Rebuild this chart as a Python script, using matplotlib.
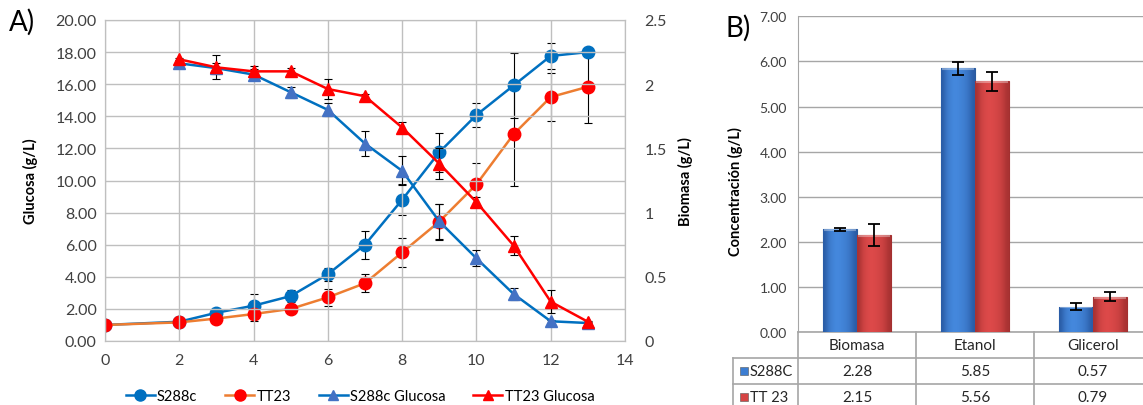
import numpy as np
import matplotlib.pyplot as plt
from matplotlib.ticker import FuncFormatter, MultipleLocator
from matplotlib.lines import Line2D
from matplotlib.colors import LinearSegmentedColormap

plt.rcParams['font.family'] = ['Lato', 'DejaVu Sans']

# ---- panel A data (time in h) ----
t_bio = [0, 2, 3, 4, 5, 6, 7, 8, 9, 10, 11, 12, 13]
s288c_bio = [0.125, 0.15, 0.22, 0.275, 0.35, 0.52, 0.75, 1.10, 1.47, 1.76, 1.99, 2.22, 2.25]
s288c_bio_err = [0, 0.01, 0.02, 0.09, 0.05, 0.05, 0.11, 0.12, 0.15, 0.095, 0.25, 0.10, 0.0]
tt23_bio = [0.125, 0.145, 0.175, 0.21, 0.25, 0.34, 0.45, 0.69, 0.93, 1.22, 1.61, 1.90, 1.98]
tt23_bio_err = [0, 0.01, 0.02, 0.055, 0.02, 0.065, 0.07, 0.11, 0.14, 0.17, 0.40, 0.19, 0.28]

t_glu = [2, 3, 4, 5, 6, 7, 8, 9, 10, 11, 12, 13]
s288c_glu = [17.3, 17.0, 16.6, 15.5, 14.4, 12.3, 10.6, 7.45, 5.15, 2.93, 1.23, 1.12]
s288c_glu_err = [0.2, 0.35, 0.35, 0.35, 0.4, 0.8, 0.9, 1.1, 0.5, 0.4, 0.1, 0.05]
tt23_glu = [17.55, 17.05, 16.8, 16.8, 15.7, 15.25, 13.3, 11.05, 8.65, 5.95, 2.45, 1.2]
tt23_glu_err = [0.1, 0.75, 0.35, 0.2, 0.6, 0.15, 0.35, 0.95, 0.3, 0.6, 0.7, 0.05]

# ---- panel B data ----
categories = ['Biomasa', 'Etanol', 'Glicerol']
row_labels = ['S288C', 'TT 23']
s288c_conc = [2.28, 5.85, 0.57]
s288c_conc_err = [0.03, 0.14, 0.07]
tt23_conc = [2.15, 5.56, 0.79]
tt23_conc_err = [0.24, 0.21, 0.10]

W, H = 1143, 406
fig = plt.figure(figsize=(W / 100, H / 100), dpi=100)

def px_axes(x0, y0, x1, y1):
    # pixel box (top-left origin) -> axes
    return fig.add_axes([x0 / W, 1 - y1 / H, (x1 - x0) / W, (y1 - y0) / H])

grid_c = '#BFBFBF'
blue = '#0070C0'
orange = '#ED7D31'
red = '#FF0000'
tri_blue = '#4472C4'

# ================= panel A =================
ax = px_axes(105, 21, 625, 342)
ax2 = ax.twinx()
ax.set_zorder(ax2.get_zorder() + 1)
ax.patch.set_visible(False)

ekw = dict(ecolor='black', elinewidth=0.8, capsize=3, capthick=0.8)
ax2.errorbar(t_bio, s288c_bio, yerr=s288c_bio_err, color=blue, lw=1.8,
             marker='o', ms=9, mfc=blue, mec=blue, **ekw)
ax2.errorbar(t_bio, tt23_bio, yerr=tt23_bio_err, color=orange, lw=1.8,
             marker='o', ms=9, mfc=red, mec=red, **ekw)
ax.errorbar(t_glu, s288c_glu, yerr=s288c_glu_err, color=blue, lw=1.8,
            marker='^', ms=8, mfc=tri_blue, mec=tri_blue, **ekw)
ax.errorbar(t_glu, tt23_glu, yerr=tt23_glu_err, color=red, lw=1.8,
            marker='^', ms=8, mfc=red, mec=red, **ekw)

ax.set_xlim(0, 14)
ax.set_ylim(0, 20)
ax2.set_ylim(0, 2.5)
ax.xaxis.set_major_locator(MultipleLocator(2))
ax.yaxis.set_major_locator(MultipleLocator(2))
ax2.yaxis.set_major_locator(MultipleLocator(0.5))
ax.yaxis.set_major_formatter(FuncFormatter(lambda v, p: '%.2f' % v))
ax2.yaxis.set_major_formatter(FuncFormatter(lambda v, p: '%g' % v))
ax.grid(True, color=grid_c, lw=1)
for a in (ax, ax2):
    for s in a.spines.values():
        s.set_color(grid_c)
    a.tick_params(length=0, labelsize=11.5, colors='#404040')
ax.tick_params(axis='x', pad=9)
ax.tick_params(axis='y', pad=6)
ax2.tick_params(axis='y', pad=14)

ax.set_ylabel('Glucosa (g/L)', fontsize=10.5, fontweight='bold')
ax.yaxis.set_label_coords(-0.129, 0.5)
ax2.set_ylabel('Biomasa (g/L)', fontsize=10.5, fontweight='bold', rotation=90)
ax2.yaxis.set_label_coords(1.102, 0.5)

handles = [
    Line2D([], [], color=blue, lw=1.8, marker='o', ms=8, mfc=blue, mec=blue),
    Line2D([], [], color=orange, lw=1.8, marker='o', ms=8, mfc=red, mec=red),
    Line2D([], [], color=blue, lw=1.8, marker='^', ms=7, mfc=tri_blue, mec=tri_blue),
    Line2D([], [], color=red, lw=1.8, marker='^', ms=7, mfc=red, mec=red),
]
fig.legend(handles, ['S288c', 'TT23', 'S288c Glucosa', 'TT23 Glucosa'],
           loc='center', bbox_to_anchor=(360 / W, 1 - 397 / H), ncol=4,
           frameon=False, fontsize=10.5, handlelength=2.0, handletextpad=0.15,
           columnspacing=1.9)

fig.text(22 / W, 1 - 22 / H, 'A)', fontsize=20, ha='center', va='center')

# ================= panel B =================
bx = px_axes(798, 17.3, 1152, 333.3)
x = np.arange(len(categories))
bw = 0.286
bkw = dict(ecolor='black', capsize=4, error_kw=dict(elinewidth=1.3, capthick=1.3, zorder=5))
bars1 = bx.bar(x - bw / 2, s288c_conc, bw, yerr=s288c_conc_err, color='#3C7DD2',
               edgecolor='#2B5C9C', lw=0.8, zorder=3, **bkw)
bars2 = bx.bar(x + bw / 2, tt23_conc, bw, yerr=tt23_conc_err, color='#D64444',
               edgecolor='#A33030', lw=0.8, zorder=3, **bkw)

# bevel-like shading on each bar
grad = np.array([[0.0, 0.6, 0.85, 1.0, 0.95, 0.85, 0.7, 0.45, 0.0]])
cm_blue = LinearSegmentedColormap.from_list('b', ['#2A5CA6', '#4589DE'])
cm_red = LinearSegmentedColormap.from_list('r', ['#A83232', '#DE4A4A'])
for bars, cm in ((bars1, cm_blue), (bars2, cm_red)):
    for b in bars:
        x0, y0 = b.get_x(), b.get_y()
        im = bx.imshow(grad, cmap=cm, aspect='auto', interpolation='bicubic',
                       extent=[x0, x0 + b.get_width(), y0, y0 + b.get_height()],
                       zorder=3.5)
        im.set_clip_path(b)
        bx.plot([x0 + 0.01, x0 + b.get_width() - 0.01], [b.get_height() - 0.02] * 2,
                color='white', alpha=0.35, lw=1.5, zorder=3.6, solid_capstyle='butt')
bx.set_xlim(-0.5, 2.5)
bx.set_ylim(0, 7)
bx.yaxis.set_major_locator(MultipleLocator(1))
bx.yaxis.set_major_formatter(FuncFormatter(lambda v, p: '%.2f' % v))
bx.grid(True, axis='y', color='#A6A6A6', lw=1, zorder=0)
bx.set_xticks([])
bx.tick_params(length=0, labelsize=10, colors='#404040', pad=8)
for s in ['top', 'right', 'bottom']:
    bx.spines[s].set_visible(False)
bx.spines['left'].set_color('#A6A6A6')
bx.set_ylabel('Concentración (g/L)', fontsize=10.5, fontweight='bold')
bx.yaxis.set_label_coords(-0.155, 0.45)

# data table under the bars
tr = bx.get_xaxis_transform()
row_h = 25.7 / 316
lab_left = -0.5 - 65 / 118
tcol = '#A6A6A6'
tk = dict(transform=tr, clip_on=False, color=tcol, lw=1.2)
bx.plot([-0.5, 2.5], [0, 0], **tk)
for i in range(1, 4):
    bx.plot([lab_left, 2.5], [-i * row_h, -i * row_h], **tk)
bx.plot([-0.5, -0.5], [0, -3 * row_h], **tk)
bx.plot([lab_left, lab_left], [-row_h, -3 * row_h], **tk)
for b in [0.5, 1.5]:
    bx.plot([b, b], [0, -3 * row_h], **tk)
tx = dict(transform=tr, ha='center', va='center', fontsize=11, color='#262626')
for i, c in enumerate(categories):
    bx.text(x[i], -0.5 * row_h, c, **tx)
    bx.text(x[i], -1.5 * row_h, '%.2f' % s288c_conc[i], **tx)
    bx.text(x[i], -2.5 * row_h, '%.2f' % tt23_conc[i], **tx)
for j, (lab, col) in enumerate(zip(row_labels, ['#3C7DD2', '#D64444'])):
    yy = -(j + 1.5) * row_h
    bx.plot([lab_left + 0.09], [yy], marker='s', ms=6, color=col, mec='#555555',
            mew=0.4, transform=tr, clip_on=False)
    bx.text(lab_left + 0.14, yy, lab, transform=tr, ha='left', va='center',
            fontsize=10.5, color='#262626')

fig.text(738 / W, 1 - 28 / H, 'B)', fontsize=20, ha='center', va='center')

fig.savefig('out.png', dpi=100)
